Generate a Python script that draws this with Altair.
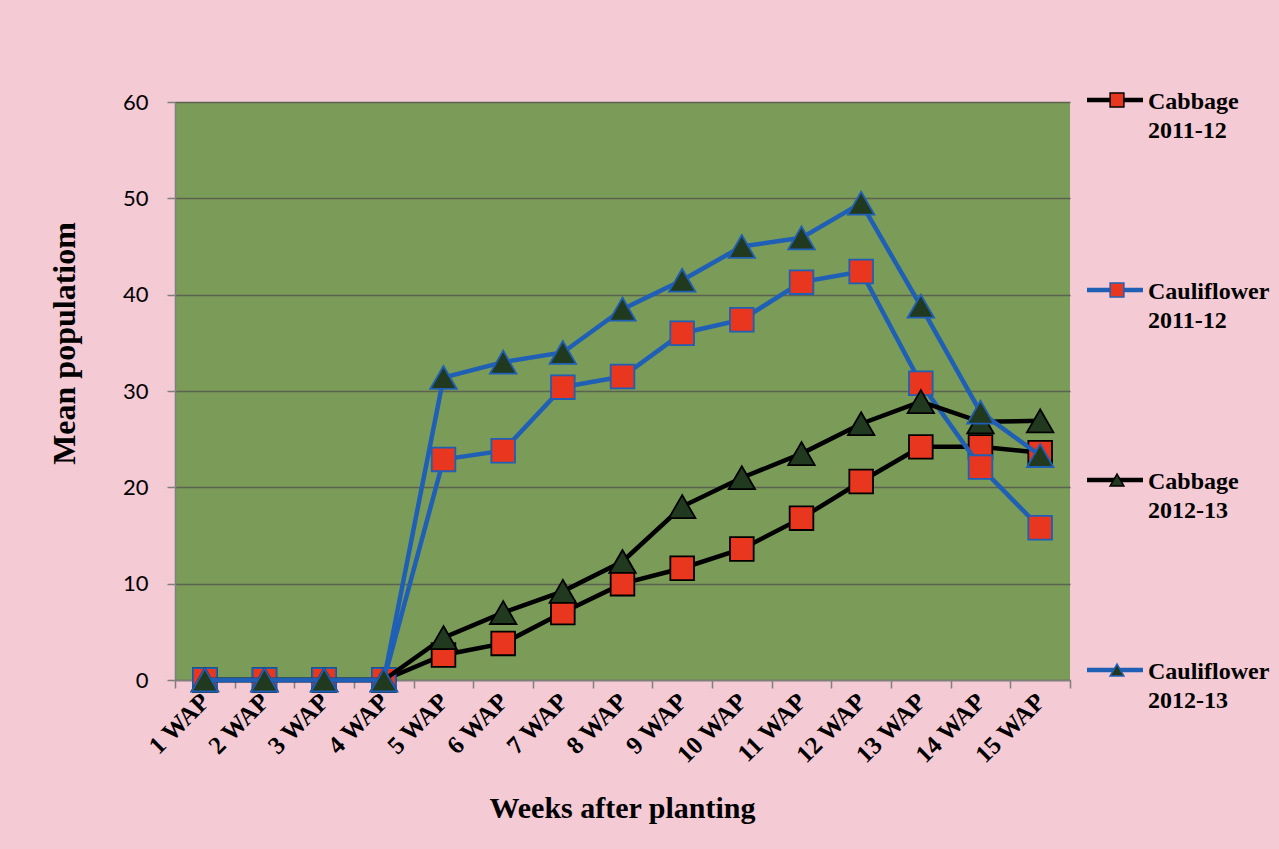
import altair as alt
import pandas as pd

weeks = [f"{i} WAP" for i in range(1, 16)]
series_names = ["Cabbage 2011-12", "Cauliflower 2011-12", "Cabbage 2012-13", "Cauliflower 2012-13"]
legend_labels = ["Cabbage\n2011-12", "Cauliflower\n2011-12", "Cabbage\n2012-13", "Cauliflower\n2012-13"]

cabbage_2011 = [0, 0, 0, 0, 2.6, 3.8, 7.0, 10.0, 11.6, 13.6, 16.8, 20.6, 24.2, 24.2, 23.6]
cauli_2011 = [0, 0, 0, 0, 22.9, 23.8, 30.4, 31.5, 36.0, 37.4, 41.3, 42.4, 30.8, 22.1, 15.8]
cabbage_2012 = [0, 0, 0, 0, 4.4, 7.0, 9.2, 12.3, 18.0, 21.0, 23.5, 26.6, 28.9, 26.8, 26.9]
cauli_2012 = [0, 0, 0, 0, 31.4, 33.0, 34.0, 38.5, 41.5, 45.0, 45.9, 49.5, 38.8, 27.8, 23.3]

all_values = [cabbage_2011, cauli_2011, cabbage_2012, cauli_2012]

line_colors = ["#000000", "#1f5fb5", "#000000", "#1f5fb5"]
marker_shapes = ["square", "square", "triangle-up", "triangle-up"]
marker_fills = ["#e8361f", "#e8361f", "#213a1f", "#213a1f"]
marker_sizes = [560, 560, 700, 700]

rows = []
for name, vals in zip(series_names, all_values):
    for w, v in zip(weeks, vals):
        rows.append({"series": name, "week": w, "value": v})
df = pd.DataFrame(rows)

leg_df = pd.DataFrame({"series": series_names, "label": legend_labels})

serif = "Liberation Serif"

x_enc = alt.X(
    "week:N",
    sort=weeks,
    scale=alt.Scale(type="band", paddingInner=0, paddingOuter=0),
    axis=alt.Axis(
        title="Weeks after planting",
        titleFont=serif, titleFontSize=30, titleFontWeight="bold", titleColor="#000",
        titleX=447, titleY=128, titleBaseline="middle", titleAlign="center",
        labelAngle=315, labelAlign="right", labelBaseline="middle",
        labelFont=serif, labelFontSize=25, labelFontWeight="bold", labelColor="#000",
        labelPadding=9,
        tickBand="extent", tickSize=8, tickColor="#7f7f7f", tickWidth=1.5,
        domainColor="#7f7f7f", domainWidth=1.5, grid=False,
    ),
)
y_enc = alt.Y(
    "value:Q",
    scale=alt.Scale(domain=[0, 60], nice=False, zero=True),
    axis=alt.Axis(
        values=[0, 10, 20, 30, 40, 50, 60],
        title="Mean populatiom",
        titleFont=serif, titleFontSize=32, titleFontWeight="bold", titleColor="#000",
        titleX=-111, titleY=241, titleAngle=270, titleBaseline="middle", titleAlign="center",
        labelFont="Lato", labelFontSize=22, labelColor="#000", labelPadding=19,
        tickSize=8, tickColor="#7f7f7f", tickWidth=1.5,
        domainColor="#7f7f7f", domainWidth=1.5,
        grid=True, gridColor="#5c6250", gridWidth=1.5,
    ),
)

layers = []
for name, lc, shp, fc, sz in zip(series_names, line_colors, marker_shapes, marker_fills, marker_sizes):
    base = alt.Chart(df).transform_filter(alt.datum.series == name)
    layers.append(base.mark_line(color=lc, strokeWidth=4.5).encode(x=x_enc, y=y_enc))
    layers.append(
        base.mark_point(shape=shp, filled=True, fill=fc, stroke=lc, strokeWidth=1.8,
                        size=sz, opacity=1, fillOpacity=1, strokeOpacity=1)
        .encode(x=x_enc, y=y_enc)
    )
main = alt.layer(*layers)

leg_y = alt.Y("series:N", sort=series_names,
              scale=alt.Scale(type="point", range=[-2, 568], padding=0), axis=None)
leg_stroke = alt.Stroke("series:N", scale=alt.Scale(domain=series_names, range=line_colors), legend=None)
leg_fill = alt.Fill("series:N", scale=alt.Scale(domain=series_names, range=marker_fills), legend=None)
leg_shape = alt.Shape("series:N", scale=alt.Scale(domain=series_names, range=marker_shapes), legend=None)

leg_base = alt.Chart(leg_df)
leg_rule = leg_base.mark_rule(strokeWidth=4.5).encode(
    y=leg_y, x=alt.value(912), x2=alt.value(968), stroke=leg_stroke)
leg_pt = leg_base.mark_point(filled=True, size=190, strokeWidth=1.5, opacity=1).encode(
    y=leg_y, x=alt.value(942), stroke=leg_stroke, fill=leg_fill, shape=leg_shape)
leg_txt = leg_base.mark_text(
    align="left", baseline="alphabetic", dy=9, lineBreak="\n", lineHeight=29,
    font=serif, fontSize=24, fontWeight="bold", color="#000",
).encode(y=leg_y, x=alt.value(973), text="label:N")
legend = alt.layer(leg_rule, leg_pt, leg_txt)

chart = (
    alt.layer(main, legend)
    .resolve_scale(y="independent")
    .properties(
        width=895, height=578,
        background="#f4cad4",
        padding={"left": 175, "top": 102, "right": 209, "bottom": 169},
        autosize=alt.AutoSizeParams(type="none"),
    )
    .configure_view(fill="#7b9b58", stroke=None)
)

chart.save("out.html", embed_options={"renderer": "svg", "actions": False})
